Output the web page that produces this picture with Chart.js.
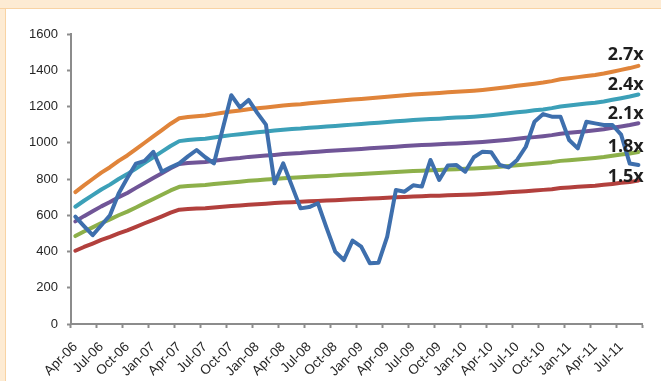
<!DOCTYPE html>
<html>
<head>
<meta charset="utf-8">
<script src="https://cdn.jsdelivr.net/npm/chart.js@4.4.1/dist/chart.umd.min.js"></script>
<style>
  html, body { margin: 0; padding: 0; background: #fff; }
  #frame { position: relative; width: 661px; height: 381px; overflow: hidden; }
  #band-top { position: absolute; left: 0; top: 0; width: 661px; height: 8px; background: #fdebd3; border-bottom: 1px solid #f8d3a4; }
  #band-left { position: absolute; left: 0; top: 9px; width: 5px; height: 372px; background: #fdebd3; border-right: 1px solid #f8d3a4; }
  #pb-band { position: absolute; left: 0; top: 0; }
</style>
</head>
<body>
<div id="frame">
  <div id="band-top"></div>
  <div id="band-left"></div>
  <canvas id="pb-band" width="661" height="381"></canvas>
</div>
<script>
// ----------------------------------------------
// データ（月次, Apr-06 〜 Sep-11）
// ----------------------------------------------
const months = [
  'Apr-06','May-06','Jun-06','Jul-06','Aug-06','Sep-06','Oct-06','Nov-06','Dec-06',
  'Jan-07','Feb-07','Mar-07','Apr-07','May-07','Jun-07','Jul-07','Aug-07','Sep-07','Oct-07','Nov-07','Dec-07',
  'Jan-08','Feb-08','Mar-08','Apr-08','May-08','Jun-08','Jul-08','Aug-08','Sep-08','Oct-08','Nov-08','Dec-08',
  'Jan-09','Feb-09','Mar-09','Apr-09','May-09','Jun-09','Jul-09','Aug-09','Sep-09','Oct-09','Nov-09','Dec-09',
  'Jan-10','Feb-10','Mar-10','Apr-10','May-10','Jun-10','Jul-10','Aug-10','Sep-10','Oct-10','Nov-10','Dec-10',
  'Jan-11','Feb-11','Mar-11','Apr-11','May-11','Jun-11','Jul-11','Aug-11','Sep-11'
];

const price = [
  592, 540, 490, 545, 600, 720, 805, 885, 900,
  950, 840, 865, 886, 925, 960, 920, 886, 1075, 1262, 1195, 1236,
  1165, 1100, 776, 886, 762, 638, 645, 666, 530, 399, 353, 460,
  427, 335, 338, 482, 739, 730, 765, 758, 905, 795, 875, 877,
  840, 920, 951, 948, 877, 864, 905, 978, 1116, 1158, 1144, 1144,
  1015, 969, 1116, 1107, 1098, 1098, 1045, 885, 877
];

const band27 = [
  728, 765, 800, 835, 865, 900, 930, 965, 1000,
  1035, 1070, 1105, 1135, 1142, 1146, 1150, 1158, 1165, 1172, 1178, 1185,
  1190, 1195, 1200, 1206, 1210, 1213, 1218, 1222, 1226, 1230, 1234, 1238,
  1242, 1246, 1250, 1254, 1258, 1262, 1266, 1269, 1272, 1275, 1278, 1281,
  1284, 1287, 1291, 1296, 1302, 1308, 1314, 1320, 1326, 1332, 1340, 1350,
  1356, 1362, 1368, 1374, 1382, 1392, 1402, 1412, 1424
];

const band24 = [
  647, 680, 711, 742, 769, 800, 827, 858, 889,
  920, 951, 982, 1009, 1015, 1019, 1022, 1029, 1036, 1042, 1047, 1053,
  1058, 1062, 1067, 1072, 1076, 1078, 1083, 1086, 1090, 1093, 1097, 1100,
  1104, 1108, 1111, 1115, 1118, 1122, 1125, 1128, 1131, 1133, 1136, 1139,
  1141, 1144, 1148, 1152, 1157, 1163, 1168, 1173, 1179, 1184, 1191, 1200,
  1205, 1211, 1216, 1221, 1228, 1237, 1246, 1255, 1266
];

const band21 = [
  566, 595, 622, 649, 673, 700, 723, 751, 778,
  805, 832, 859, 883, 888, 891, 894, 901, 906, 912, 916, 922,
  926, 929, 933, 938, 941, 943, 947, 950, 954, 957, 960, 963,
  966, 969, 972, 975, 978, 982, 985, 987, 989, 992, 994, 996,
  999, 1001, 1004, 1008, 1013, 1017, 1022, 1027, 1031, 1036, 1042, 1050,
  1055, 1059, 1064, 1069, 1075, 1083, 1090, 1098, 1108
];

const band18 = [
  485, 510, 533, 557, 577, 600, 620, 643, 667,
  690, 713, 737, 757, 761, 764, 767, 772, 777, 781, 785, 790,
  793, 797, 800, 804, 807, 809, 812, 815, 817, 820, 823, 825,
  828, 831, 833, 836, 839, 841, 844, 846, 848, 850, 852, 854,
  856, 858, 861, 864, 868, 872, 876, 880, 884, 888, 893, 900,
  904, 908, 912, 916, 921, 928, 935, 941, 949
];

const band15 = [
  404, 425, 444, 464, 481, 500, 517, 536, 556,
  575, 594, 614, 631, 634, 637, 639, 643, 647, 651, 654, 658,
  661, 664, 667, 670, 672, 674, 677, 679, 681, 683, 686, 688,
  690, 692, 694, 697, 699, 701, 703, 705, 707, 708, 710, 712,
  713, 715, 717, 720, 723, 727, 730, 733, 737, 740, 744, 750,
  753, 757, 760, 763, 768, 773, 779, 784, 791
];

const bandLabels = ['1.5x', '1.8x', '2.1x', '2.4x', '2.7x'];

// ----------------------------------------------
// 描画
// ----------------------------------------------
const axisGrey = '#8c8c8c';
const fontFamily = '"Liberation Sans", Arial, sans-serif';

// 右端の倍率ラベル（ベースラインを線の終点から少しずらす）
const labelShift = [1, 0, -4, -5, -6];
const bandLabelPlugin = {
  id: 'bandLabels',
  afterDatasetsDraw(chart) {
    const { ctx, chartArea } = chart;
    const yScale = chart.scales.y;
    ctx.save();
    ctx.font = 'bold 18px "Open Sans", sans-serif';
    ctx.fillStyle = '#1e1e1e';
    ctx.textAlign = 'right';
    ctx.textBaseline = 'alphabetic';
    bandLabels.forEach((txt, k) => {
      const ds = chart.data.datasets[k + 1].data;
      const y = yScale.getPixelForValue(ds[ds.length - 1]) + labelShift[k];
      ctx.fillText(txt, chartArea.right + 1, y);
    });
    ctx.restore();
  }
};

const line = (data, color) => ({
  data,
  borderColor: color,
  backgroundColor: color,
  borderWidth: 4,
  pointRadius: 0,
  tension: 0,
  borderJoinStyle: 'round',
  borderCapStyle: 'round',
  fill: false
});

new Chart(document.getElementById('pb-band'), {
  type: 'line',
  data: {
    labels: months,
    datasets: [
      line(price,  '#3e6fad'),
      line(band15, '#b2403d'),
      line(band18, '#8db04a'),
      line(band21, '#705597'),
      line(band24, '#3ca0b8'),
      line(band27, '#e0843a')
    ]
  },
  options: {
    responsive: false,
    animation: false,
    layout: { padding: { top: 34, right: 15, left: 0, bottom: 0 } },
    plugins: { legend: { display: false }, tooltip: { enabled: false } },
    scales: {
      x: {
        type: 'category',
        offset: true,
        afterFit(s) { s.height = 57; },
        grid: {
          offset: true,
          drawOnChartArea: false,
          drawTicks: true,
          tickLength: 4,
          tickWidth: 2,
          tickColor: c => (c.type === 'scale' || c.index % 3 === 0) ? axisGrey : 'rgba(0,0,0,0)'
        },
        border: { display: true, color: axisGrey, width: 2 },
        ticks: {
          autoSkip: false,
          minRotation: 45,
          maxRotation: 45,
          padding: 11,
          color: '#262626',
          font: { family: fontFamily, size: 13.5 },
          callback: (v, i) => (i % 3 === 0 ? months[i] : '')
        }
      },
      y: {
        min: 0,
        max: 1600,
        afterFit(s) { s.width = 71; },
        grid: { drawOnChartArea: false, drawTicks: true, tickLength: 4, tickWidth: 2, tickColor: axisGrey },
        border: { display: true, color: axisGrey, width: 2 },
        ticks: {
          stepSize: 200,
          padding: 9,
          color: '#262626',
          font: { family: fontFamily, size: 13 },
          callback: v => String(v)
        }
      }
    }
  },
  plugins: [bandLabelPlugin]
});
</script>
</body>
</html>
